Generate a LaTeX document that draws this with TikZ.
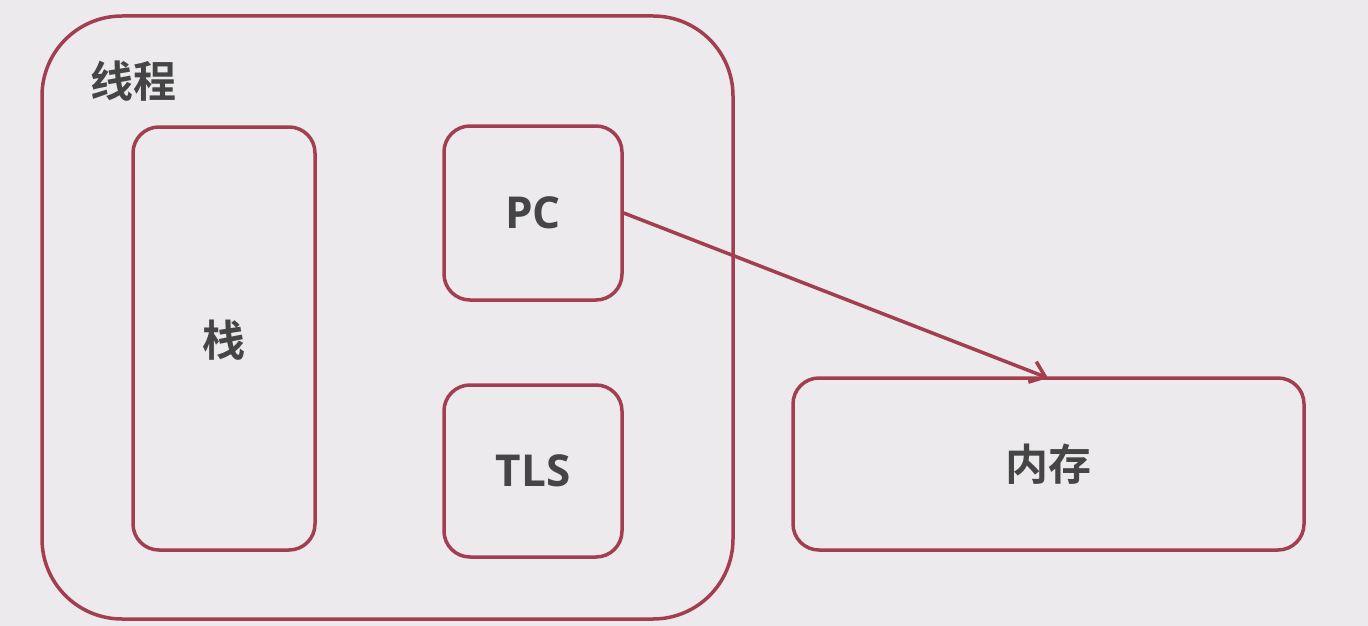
\documentclass[tikz,border=0pt]{standalone}
\usepackage{fontspec}
\setmainfont{Open Sans}
\newfontfamily\cjk{Noto Sans CJK SC}[BoldFont={* Bold}]
\usetikzlibrary{arrows.meta}
\definecolor{bg}{HTML}{ECEAED}
\definecolor{edge}{HTML}{A23E50}
\definecolor{txt}{HTML}{454545}
\tikzset{
  box/.style={draw=edge, line width=3.5pt, fill=bg, rounded corners=26pt, inner sep=0pt},
  lbl/.style={text=txt, font=\bfseries\fontsize{44}{50}\selectfont},
  clbl/.style={text=txt, font=\cjk\bfseries\fontsize{43}{48}\selectfont},
}
\begin{document}
\begin{tikzpicture}[x=1pt,y=-1pt]
\useasboundingbox[fill=bg] (0,0) rectangle (1368,626);
\draw[box, rounded corners=80pt] (42,16) rectangle (733,619);
\node[clbl] (title) at (133,81) {线程};
\draw[box] (133,127) rectangle (315,550);
\node[clbl] (stack) at (224,340) {栈};
\node[box, minimum width=178pt, minimum height=174pt] (pc) at (533,213) {};
\node[lbl] at (pc.center) {PC};
\node[box, minimum width=178pt, minimum height=172pt] (tls) at (533,471) {};
\node[lbl] at (tls.center) {TLS};
\node[box, minimum width=511pt, minimum height=172pt] (mem) at (1048.5,464) {};
\node[clbl] at (mem.center) {内存};
\coordinate (tip) at (1048,378);
\draw[edge, line width=3.5pt, -{Straight Barb[length=14pt,width=22pt,line width=3.5pt]}] (pc.east) -- (tip);
\end{tikzpicture}
\end{document}
